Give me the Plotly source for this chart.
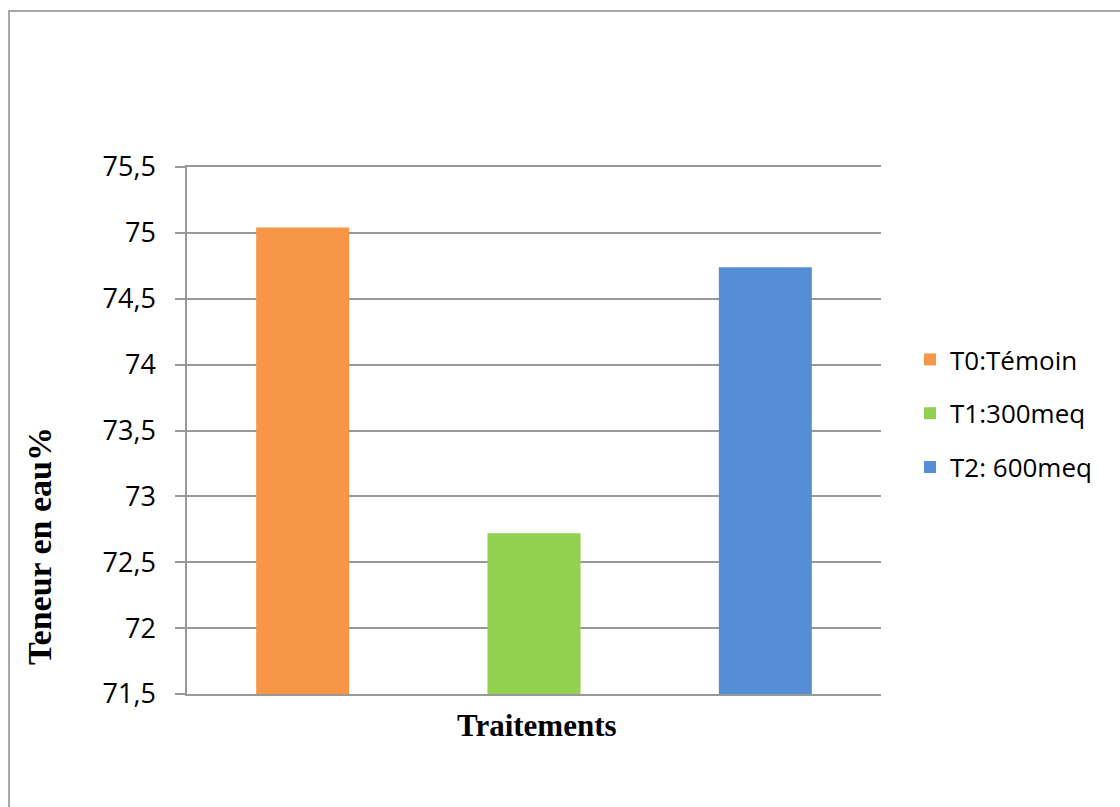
import plotly.graph_objects as go

categories = ["T0:Témoin", "T1:300meq", "T2: 600meq"]
values = [75.04, 72.72, 74.74]
colors = ["#F79646", "#92D050", "#558ED5"]
y_ticks = [71.5, 72, 72.5, 73, 73.5, 74, 74.5, 75, 75.5]

W, H = 1120, 807
L, R, T, B = 187, 239, 167, 113
pw, ph = W - L - R, H - T - B

def px_x(x):
    return (x - L) / pw

def px_y(y):
    return (H - B - y) / ph

fig = go.Figure()
for cat, val, col in zip(categories, values, colors):
    fig.add_trace(go.Bar(x=[cat], y=[val], name=cat, marker=dict(color=col, line=dict(width=0)),
                         legendgroup=cat))

grid_col = "#999999"
fig.update_layout(
    width=W, height=H,
    margin=dict(l=L, r=R, t=T, b=B),
    paper_bgcolor="white", plot_bgcolor="white",
    barmode="overlay", bargap=0.598,
    separators=", ",
    font=dict(family="Open Sans", size=27, color="#000000"),
    showlegend=True,
    legend=dict(x=px_x(910), xanchor="left", y=px_y(336), yanchor="top",
                font=dict(family="Open Sans", size=26, color="#000000"),
                tracegroupgap=17, bgcolor="rgba(0,0,0,0)"),
    xaxis=dict(showticklabels=False, showgrid=False, ticks="", showline=True, mirror=True,
               linecolor=grid_col, linewidth=1.5, categoryorder="array", categoryarray=categories),
    yaxis=dict(range=[71.5, 75.5], tickvals=y_ticks, showgrid=True, gridcolor=grid_col, gridwidth=1.5,
               showline=True, linecolor=grid_col, linewidth=1.5, ticks="outside", ticklen=10,
               tickcolor=grid_col, tickwidth=1.5, ticklabelstandoff=14, zeroline=False,
               tickfont=dict(family="Open Sans", size=27, color="#000000")),
)

fig.add_annotation(text="<b>Traitements</b>", xref="paper", yref="paper", x=px_x(537), y=px_y(725),
                   xanchor="center", yanchor="middle", showarrow=False,
                   font=dict(family="Liberation Serif", size=31, color="#000000"))
fig.add_annotation(text="<b>Teneur en eau%</b>", xref="paper", yref="paper", x=px_x(39), y=px_y(546),
                   xanchor="center", yanchor="middle", showarrow=False, textangle=-90,
                   font=dict(family="Liberation Serif", size=34, color="#000000"))

fig.add_shape(type="rect", xref="paper", yref="paper",
              x0=px_x(9), x1=px_x(1140), y0=px_y(830), y1=px_y(11),
              line=dict(color="#8C8C8C", width=1.5), fillcolor="rgba(0,0,0,0)", layer="below")

fig.write_html("out.html")
